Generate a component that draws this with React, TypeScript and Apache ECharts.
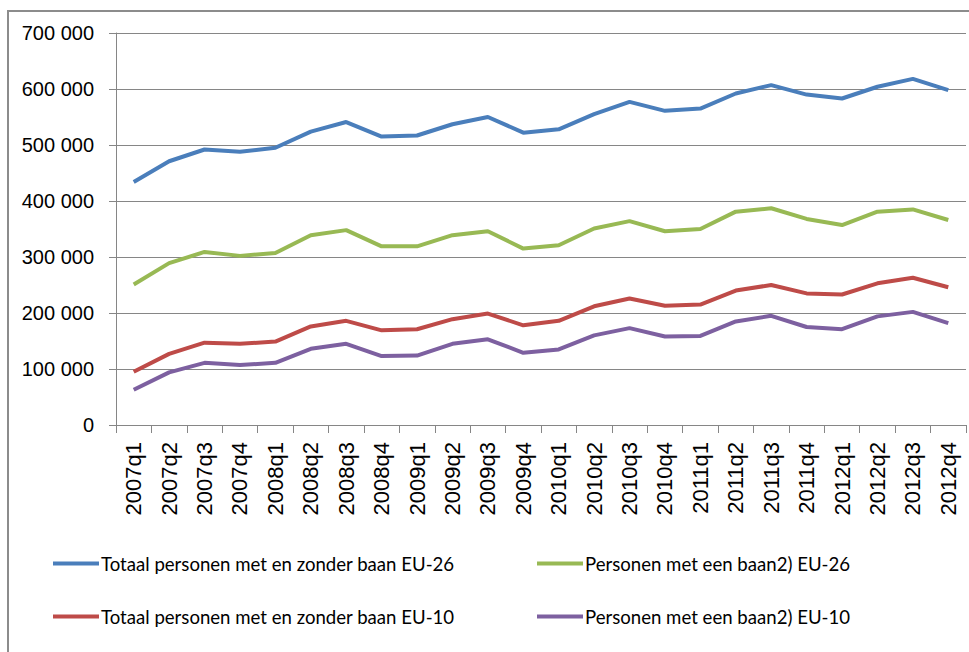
import React, { useEffect, useRef } from "react";
import * as echarts from "echarts";

const categories = [
  "2007q1", "2007q2", "2007q3", "2007q4",
  "2008q1", "2008q2", "2008q3", "2008q4",
  "2009q1", "2009q2", "2009q3", "2009q4",
  "2010q1", "2010q2", "2010q3", "2010q4",
  "2011q1", "2011q2", "2011q3", "2011q4",
  "2012q1", "2012q2", "2012q3", "2012q4",
];

const totaalEU26 = [
  434000, 471000, 492000, 488000, 495000, 524000, 541000, 515000,
  517000, 537000, 550000, 522000, 528000, 555000, 577000, 561000,
  565000, 592000, 607000, 590000, 583000, 604000, 618000, 598000,
];
const baanEU26 = [
  251000, 289000, 309000, 302000, 307000, 339000, 348000, 319000,
  319000, 339000, 346000, 315000, 321000, 351000, 364000, 346000,
  350000, 381000, 387000, 368000, 357000, 381000, 385000, 366000,
];
const totaalEU10 = [
  95000, 127000, 147000, 145000, 149000, 176000, 186000, 169000,
  171000, 189000, 199000, 178000, 186000, 212000, 226000, 213000,
  215000, 240000, 250000, 235000, 233000, 253000, 263000, 246000,
];
const baanEU10 = [
  63000, 94000, 111000, 107000, 111000, 136000, 145000, 123000,
  124000, 145000, 153000, 129000, 135000, 160000, 173000, 158000,
  159000, 185000, 195000, 175000, 171000, 194000, 202000, 182000,
];

const seriesNames = [
  "Totaal personen met en zonder baan EU-26",
  "Personen met een baan2) EU-26",
  "Totaal personen met en zonder baan EU-10",
  "Personen met een baan2) EU-10",
];
const seriesColors = ["#4a7ebb", "#98b954", "#be4b48", "#7d60a0"];
const seriesData = [totaalEU26, baanEU26, totaalEU10, baanEU10];

const FONT_LEGEND = "Lato, 'Liberation Sans', sans-serif";
const FONT_AXIS = "'Liberation Sans', sans-serif";

export default function App() {
  const ref = useRef<HTMLDivElement>(null);
  useEffect(() => {
    if (!ref.current) return;
    const chart = echarts.init(ref.current, null, { renderer: "svg" });
    const legendPos = [
      { left: 53, top: 554 },
      { left: 537, top: 554 },
      { left: 53, top: 607 },
      { left: 537, top: 607 },
    ];
    chart.setOption({
      animation: false,
      backgroundColor: "#ffffff",
      grid: { left: 116, right: 3, top: 33, bottom: 227, containLabel: false },
      legend: seriesNames.map((n, i) => ({
        data: [n],
        left: legendPos[i].left,
        top: legendPos[i].top,
        itemWidth: 46,
        itemHeight: 4,
        itemGap: 0,
        icon: "rect",
        padding: 0,
        textStyle: { fontFamily: FONT_LEGEND, fontSize: 18.6, color: "#000", padding: [0, 0, 0, -3] },
        selectedMode: false,
      })),
      xAxis: {
        type: "category",
        data: categories,
        boundaryGap: true,
        axisLine: { lineStyle: { color: "#868686", width: 1 } },
        axisTick: { show: true, length: 8, lineStyle: { color: "#868686" } },
        axisLabel: {
          rotate: 90,
          interval: 0,
          margin: 17,
          fontFamily: FONT_AXIS,
          fontSize: 22,
          color: "#000",
        },
      },
      yAxis: {
        type: "value",
        min: 0,
        max: 700000,
        interval: 100000,
        axisLine: { show: true, lineStyle: { color: "#868686", width: 1 } },
        axisTick: { show: true, length: 7, lineStyle: { color: "#868686" } },
        splitLine: { show: true, lineStyle: { color: "#868686", width: 1 } },
        axisLabel: {
          margin: 22,
          fontFamily: FONT_AXIS,
          fontSize: 20,
          color: "#000",
          formatter: (v: number) => (v === 0 ? "0" : `${v / 1000} 000`),
        },
      },
      series: seriesNames.map((n, i) => ({
        name: n,
        type: "line",
        data: seriesData[i],
        symbol: "none",
        lineStyle: { color: seriesColors[i], width: 4 },
        itemStyle: { color: seriesColors[i] },
      })),
      graphic: [
        {
          type: "polyline",
          shape: { points: [[8, 652], [8, 11], [969, 11]] },
          style: { stroke: "#8c8c8c", lineWidth: 2, fill: "none" },
        },
      ],
    });
    return () => chart.dispose();
  }, []);
  return (
    <div
      ref={ref}
      style={{ position: "absolute", left: 0, top: 0, width: 969, height: 652 }}
    />
  );
}
